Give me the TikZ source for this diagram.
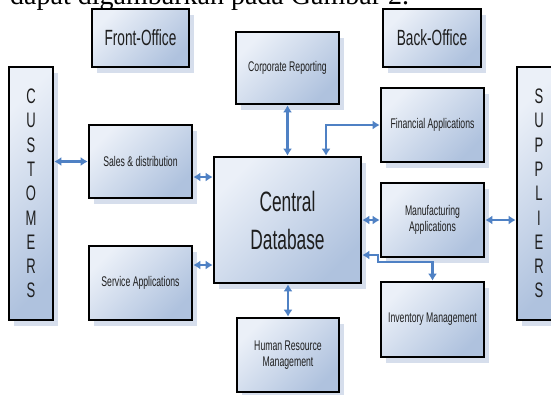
\documentclass[tikz,border=0pt]{standalone}
\usepackage{fontspec}
\setmainfont{Liberation Sans}
\newfontfamily\nar{Liberation Sans}[FakeStretch=0.62]
\newfontfamily\topserif{Liberation Serif}
\usetikzlibrary{arrows.meta,shadows}
\definecolor{arrblue}{HTML}{4F81C4}
\definecolor{boxlight}{HTML}{EBF0F8}
\definecolor{boxdark}{HTML}{AFC2DE}
\definecolor{shadowc}{HTML}{D6DEEC}
\definecolor{txt}{HTML}{1E1E1E}
\tikzset{
  bx/.style={draw=black, line width=2.6pt, top color=boxlight, bottom color=boxdark,
    shading angle=45, inner sep=2pt, align=center, text=txt,
    general shadow={fill=shadowc, shadow xshift=5pt, shadow yshift=-6pt}},
  smalltxt/.style={font=\nar\fontsize{14}{15.5}\selectfont},
  midtxt/.style={font=\nar\fontsize{22}{26}\selectfont},
  bigtxt/.style={font=\nar\fontsize{28}{38}\selectfont},
  lettxt/.style={font=\nar\fontsize{21}{24.3}\selectfont},
  arr/.style={draw=arrblue, line width=2.2pt, {Latex[length=7pt,width=9pt]}-{Latex[length=7pt,width=9pt]}}
}
\begin{document}
\begin{tikzpicture}[x=1pt,y=-1pt]
\useasboundingbox (0,0) rectangle (551,394);
\fill[white] (0,0) rectangle (551,394);
\begin{scope}
\clip (0,0) rectangle (551,394);
\node[anchor=base west, inner sep=0pt, font=\topserif\fontsize{28}{30}\selectfont] (toptext) at (10,4.5) {dapat digambarkan pada Gambar 2.};

\node[bx, midtxt, minimum width=97pt, minimum height=58pt] (front) at (140.5,38) {Front-Office};
\node[bx, midtxt, minimum width=98pt, minimum height=58pt] (back) at (432,38) {Back-Office};
\node[bx, smalltxt, minimum width=103pt, minimum height=72pt] (corp) at (287.5,68) {Corporate Reporting};
\node[bx, lettxt, minimum width=44pt, minimum height=253pt] (cust) at (31,193.5) {C\\U\\S\\T\\O\\M\\E\\R\\S};
\node[bx, lettxt, minimum width=44pt, minimum height=253pt] (supp) at (539,193.5) {S\\U\\P\\P\\L\\I\\E\\R\\S};
\node[bx, smalltxt, minimum width=103pt, minimum height=73pt] (sales) at (140.5,161.5) {Sales \& distribution};
\node[bx, smalltxt, minimum width=103pt, minimum height=74pt] (serv) at (140.5,283) {Service Applications};
\node[bx, bigtxt, minimum width=147pt, minimum height=126pt] (central) at (287.5,220) {Central\\Database};
\node[bx, smalltxt, minimum width=103pt, minimum height=74pt] (fin) at (432.5,125) {Financial Applications};
\node[bx, smalltxt, minimum width=103pt, minimum height=74pt] (manu) at (432.5,220) {Manufacturing\\Applications};
\node[bx, smalltxt, minimum width=103pt, minimum height=75pt] (inv) at (432.5,319.5) {Inventory Management};
\node[bx, smalltxt, minimum width=102pt, minimum height=74pt] (hr) at (288,355) {Human Resource\\Management};

\coordinate (s1) at ([yshift=-15.5pt]sales.east);
\coordinate (v1) at ([yshift=18pt]serv.east);
\coordinate (f1) at ([xshift=38.5pt]central.north);
\coordinate (i1) at ([yshift=-35pt]central.east);

\draw[arr] (cust.east |- sales.west) -- (sales.west);
\draw[arr] (s1) -- (s1 -| central.west);
\draw[arr] (v1) -- (v1 -| central.west);
\draw[arr] (corp.south) -- (corp.south |- central.north);
\draw[arr] (f1) |- (fin.west);
\draw[arr] (central.east |- manu.west) -- (manu.west);
\draw[arr] (manu.east) -- (manu.east -| supp.west);
\draw[arr] (i1) -- ++(16,0) -- ++(0,7) -| (inv.north);
\draw[arr] (central.south -| hr.north) -- (hr.north);
\end{scope}
\end{tikzpicture}
\end{document}
